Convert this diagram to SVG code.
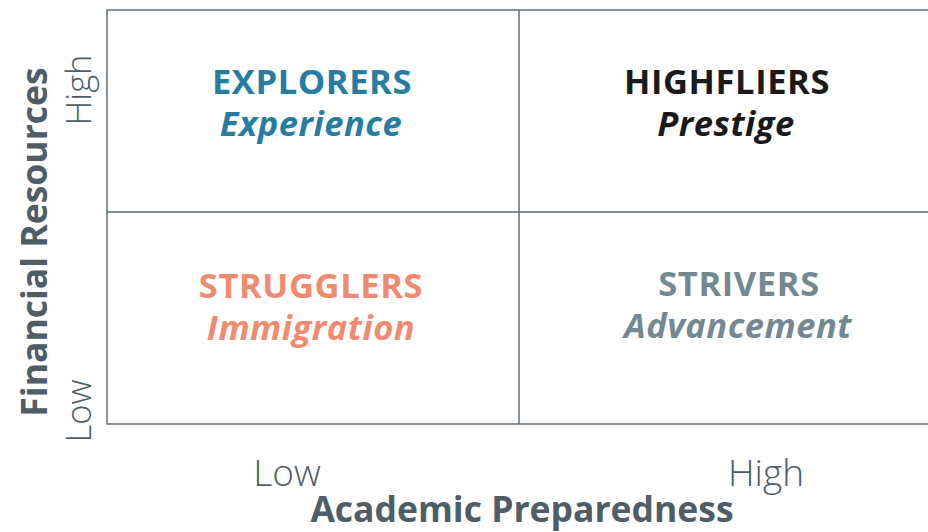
<svg xmlns="http://www.w3.org/2000/svg" width="928" height="532" viewBox="0 0 928 532">
  <style>
    .grid { stroke: #5f6d75; stroke-width: 1.5; fill: none; }
    .title { font-family: "Open Sans", "Noto Sans", sans-serif; font-weight: 700; font-size: 34.5px; letter-spacing: 0.6px; text-anchor: middle; }
    .sub { font-family: "Open Sans", "Noto Sans", sans-serif; font-weight: 700; font-style: italic; font-size: 34.5px; letter-spacing: 0.5px; text-anchor: middle; }
    .tick { font-family: "Open Sans", "Noto Sans", sans-serif; font-weight: 300; font-size: 37px; fill: #4e5d66; text-anchor: middle; }
    .vtick { font-size: 34.5px; }
    .axis { font-family: "Open Sans", "Noto Sans", sans-serif; font-weight: 700; font-size: 35.5px; fill: #4e5d66; text-anchor: middle; }
  </style>
  <rect width="928" height="532" fill="#ffffff"/>

  <g id="grid">
    <path class="grid" d="M935 10 H107 V424 H935 M519 10 V424 M107 212 H935"/>
  </g>

  <g id="explorers" fill="#277ca1">
    <text class="title" x="312" y="94">EXPLORERS</text>
    <text class="sub" x="311" y="136">Experience</text>
  </g>
  <g id="highfliers" fill="#1a1a1a">
    <text class="title" x="727" y="94">HIGHFLIERS</text>
    <text class="sub" x="726" y="136">Prestige</text>
  </g>
  <g id="strugglers" fill="#f28a70">
    <text class="title" x="311" y="298">STRUGGLERS</text>
    <text class="sub" x="311" y="340">Immigration</text>
  </g>
  <g id="strivers" fill="#748892">
    <text class="title" x="739" y="296">STRIVERS</text>
    <text class="sub" x="738" y="338">Advancement</text>
  </g>

  <g id="axes">
    <text class="axis" x="522" y="522">Academic Preparedness</text>
    <text class="tick" x="287" y="486">Low</text>
    <text class="tick" x="766" y="486">High</text>
    <text class="axis" transform="translate(47 242) rotate(-90)">Financial Resources</text>
    <text class="tick vtick" transform="translate(91 90) rotate(-90)">High</text>
    <text class="tick vtick" transform="translate(91 411) rotate(-90)">Low</text>
  </g>
</svg>
